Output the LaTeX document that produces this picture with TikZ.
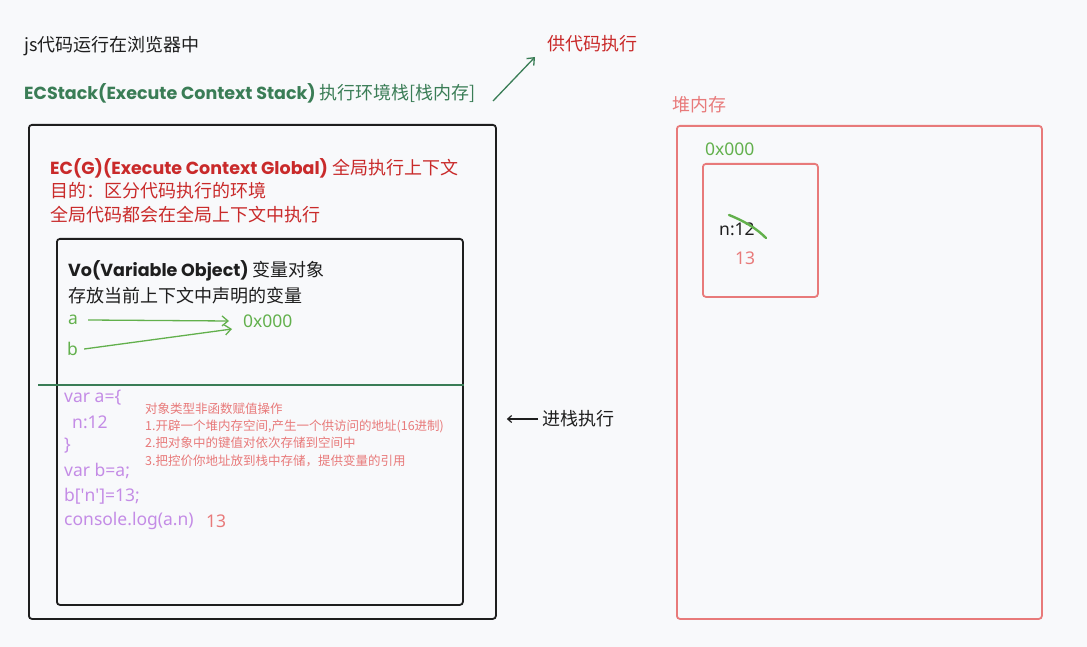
\documentclass[tikz,border=0pt]{standalone}
\usepackage{fontspec}
\usepackage{tikz}
\usetikzlibrary{arrows.meta}
\usetikzlibrary{positioning}
\setmainfont{Noto Sans CJK SC}
\newfontfamily\hand{Poppins}
\newfontfamily\latin{Noto Sans}
\definecolor{bgcol}{HTML}{F8F9FB}
\definecolor{ink}{HTML}{1E1E1E}
\definecolor{stackgreen}{HTML}{3A7D56}
\definecolor{ecred}{HTML}{C92A2A}
\definecolor{salmon}{HTML}{E87A7A}
\definecolor{addrgreen}{HTML}{62B04C}
\definecolor{codepurple}{HTML}{C48CE6}
\newcommand{\handbold}[1]{{\hand\bfseries\fontsize{17.5}{20}\selectfont #1}}
\tikzset{
    txt/.style = {anchor = west, inner sep = 0pt, font = \fontsize{18}{21}\selectfont},
    lat/.style = {anchor = west, inner sep = 0pt, font = \latin\fontsize{17.5}{21}\selectfont},
    small/.style = {anchor = west, inner sep = 0pt, font = \fontsize{12.5}{15}\selectfont, text = salmon},
    code/.style = {lat, text = codepurple},
    membox/.style = {draw, rounded corners = 3pt, anchor = north west, inner sep = 0pt},
    barb/.style = {-{Straight Barb[length=6pt, width=10pt]}, line width = 1.3pt}
}
\begin{document}
\begin{tikzpicture}[x = 1pt, y = -1pt]
        \fill[bgcol] (0, 0) rectangle (1087, 647);
        \useasboundingbox (0, 0) rectangle (1087, 647);
        % stack side
        \node[txt, text = ink] (title) at (24, 46) {js代码运行在浏览器中};
        \node[txt, text = stackgreen] (ecs) at (24, 93) {\handbold{ECStack(Execute Context Stack)} 执行环境栈[栈内存]};
        \node[txt, text = ecred] (gong) at (547, 44) {供代码执行};
        \draw[barb, stackgreen] (493, 101) -- ([xshift = -12pt, yshift = -13pt]gong.west);
        \node[membox, ink, line width = 1.8pt, minimum width = 467pt, minimum height = 494pt] (stack) at (28, 124) {};
        \node[txt, text = ecred] (ecg) at (50, 168) {\handbold{EC(G)(Execute Context Global)} 全局执行上下文};
        \node[txt, text = ecred] (aim) at (50, 191) {目的：区分代码执行的环境};
        \node[txt, text = ecred] (glob) at (50, 215) {全局代码都会在全局上下文中执行};
        \node[membox, ink, line width = 1.8pt, minimum width = 406pt, minimum height = 366pt] (vobox) at (56, 238) {};
        \node[txt, text = ink] (vo) at (68, 271) {\handbold{Vo(Variable Object)} 变量对象};
        \node[txt, text = ink] (vodesc) at (68, 296) {存放当前上下文中声明的变量};
        \node[lat, text = addrgreen] (va) at (68, 320) {a};
        \node[lat, text = addrgreen] (vb) at (67, 349) {b};
        \node[lat, text = addrgreen] (addr) at (243, 321) {0x000};
        \draw[barb, addrgreen] ([xshift = 10pt]va.east) -- ([xshift = -14pt]addr.west);
        \draw[barb, addrgreen] ([xshift = 6pt]vb.east) -- ([xshift = -11pt, yshift = -8pt]addr.west);
        \draw[stackgreen, line width = 1.5pt] (38, 385) -- (vobox.east |- 0, 385);
        % code
        \node[code] (c1) at (64, 398) {var a=\{};
        \node[code] (c2) at (72, 422) {n:12};
        \node[code] (c3) at (64, 446) {\}};
        \node[code] (c4) at (64, 471) {var b=a;};
        \node[code] (c5) at (64, 496) {b[\textquotesingle n\textquotesingle]=13;};
        \node[code] (c6) at (64, 521) {console.log(a.n)};
        \node[lat, text = salmon] (res) at (206, 521) {13};
        \node[small] (n0) at (145, 409) {对象类型非函数赋值操作};
        \node[small] (n1) at (145, 426) {1.开辟一个堆内存空间,产生一个供访问的地址(16进制)};
        \node[small] (n2) at (145, 443) {2.把对象中的键值对依次存储到空间中};
        \node[small] (n3) at (145, 461) {3.把控价你地址放到栈中存储，提供变量的引用};
        \node[txt, text = ink] (push) at (542, 419) {进栈执行};
        \draw[-{Straight Barb[length=4pt, width=7pt]}, line width = 1.2pt, ink] ([xshift = -4pt]push.west) -- ([xshift = 10pt]stack.east |- push.west);
        % heap side
        \node[txt, text = salmon] (heaplbl) at (672, 105) {堆内存};
        \node[membox, salmon, line width = 1.8pt, minimum width = 365pt, minimum height = 493pt] (heap) at (676, 125) {};
        \node[lat, text = addrgreen] (haddr) at (705, 149) {0x000};
        \node[membox, salmon, line width = 1.8pt, minimum width = 115pt, minimum height = 133pt] (obj) at (702, 163) {};
        \node[lat, text = ink] (n12) at (719, 229) {n:12};
        \draw[addrgreen, line width = 2.4pt, line cap = round] (729, 215) .. controls (744, 221) and (756, 228) .. (766, 238);
        \node[lat, text = salmon] (n13) at (735, 258) {13};
    \end{tikzpicture}
\end{document}
